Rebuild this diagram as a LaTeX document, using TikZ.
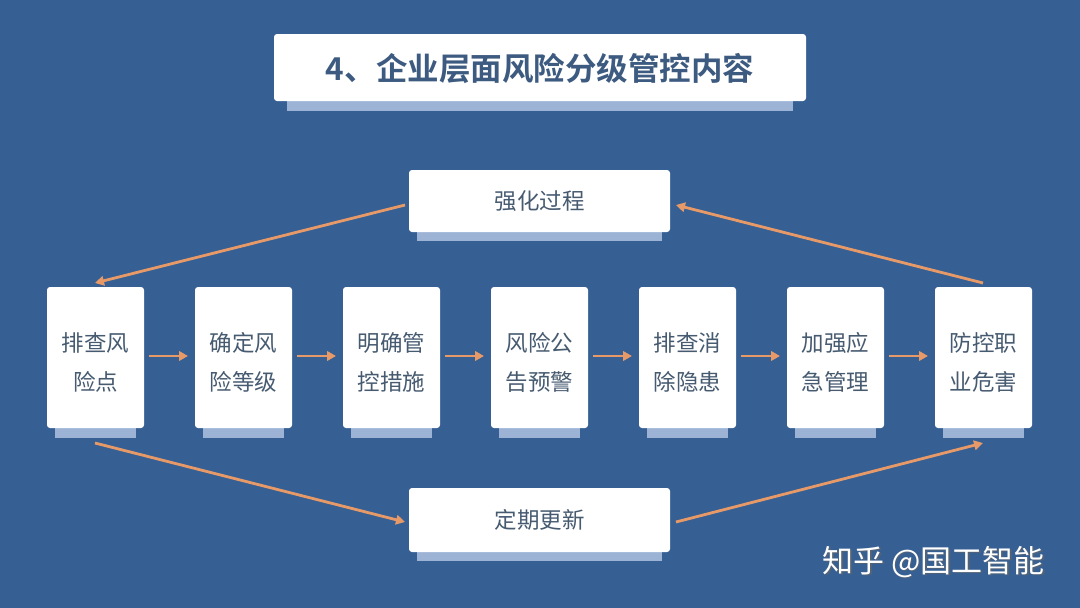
\documentclass[tikz,border=0pt]{standalone}
\usepackage{fontspec}
\setmainfont{Noto Sans CJK SC}
\newfontfamily\cjkb{Noto Sans CJK SC Bold}
\usetikzlibrary{arrows.meta}
\definecolor{bg}{HTML}{365F93}
\definecolor{shad}{HTML}{9CB3D6}
\definecolor{txt}{HTML}{465A70}
\definecolor{ttl}{HTML}{3D5A80}
\definecolor{arr}{HTML}{E79A68}
\tikzset{
  wbox/.style={fill=white, rounded corners=3pt, draw=none, inner sep=0pt},
  sbox/.style={fill=shad, draw=none},
  flow/.style={draw=arr, line width=2.8pt, -{Triangle[length=9pt,width=9.5pt]}},
  lbl/.style={text=txt, font=\fontsize{22.5}{39}\selectfont, align=center}
}
\begin{document}
\begin{tikzpicture}[x=1pt,y=-1pt]
\fill[bg] (0,0) rectangle (1080,608);
\useasboundingbox (0,0) rectangle (1080,608);
% title
\fill[sbox] (287,96) rectangle (793,111);
\fill[wbox] (274,34) rectangle (806,101);
\node[text=ttl, font=\cjkb\fontsize{31.5}{34}\selectfont] (title) at (540,69) {4、企业层面风险分级管控内容};
% top / bottom boxes
\fill[sbox] (417,228) rectangle (662,241);
\fill[wbox] (409,170) rectangle (670,232);
\node[lbl] (top) at (539.5,201) {强化过程};
\coordinate (topL) at (405,205);
\coordinate (topR) at (676,205);
\fill[sbox] (417,548) rectangle (662,561);
\fill[wbox] (409,488) rectangle (670,552);
\node[lbl] (bot) at (539.5,520) {定期更新};
\coordinate (botL) at (405,522);
\coordinate (botR) at (676,522);
% process boxes
\foreach \i/\t in {0/{排查风\\险点},1/{确定风\\险等级},2/{明确管\\控措施},3/{风险公\\告预警},4/{排查消\\除隐患},5/{加强应\\急管理},6/{防控职\\业危害}}{
  \pgfmathsetmacro{\xl}{47+148*\i}
  \fill[sbox] (\xl+8,424) rectangle (\xl+89,438);
  \fill[wbox] (\xl,287) rectangle (\xl+97,428);
  \node[lbl] (p\i) at (\xl+48.5,362) {\t};
  \coordinate (pt\i) at (\xl+48,283);
  \coordinate (pb\i) at (\xl+48,443);
  \coordinate (pr\i) at (\xl+102,356);
  \coordinate (pl\i) at (\xl-7,356);
}
\foreach \a/\b in {0/1,1/2,2/3,3/4,4/5,5/6}{
  \draw[flow] (pr\a) -- (pl\b);
}
\draw[flow] (topL) -- (pt0);
\draw[flow] (pt6) -- (topR);
\draw[flow] (pb0) -- (botL);
\draw[flow] (botR) -- (pb6);
% watermark
\node[text=black!60, opacity=0.6, font=\fontsize{31}{34}\selectfont, anchor=west] at (820.5,563.5) {知乎 @国工智能};
\node[text=white, font=\fontsize{31}{34}\selectfont, anchor=west] (wm) at (819,562) {知乎 @国工智能};
\end{tikzpicture}
\end{document}
